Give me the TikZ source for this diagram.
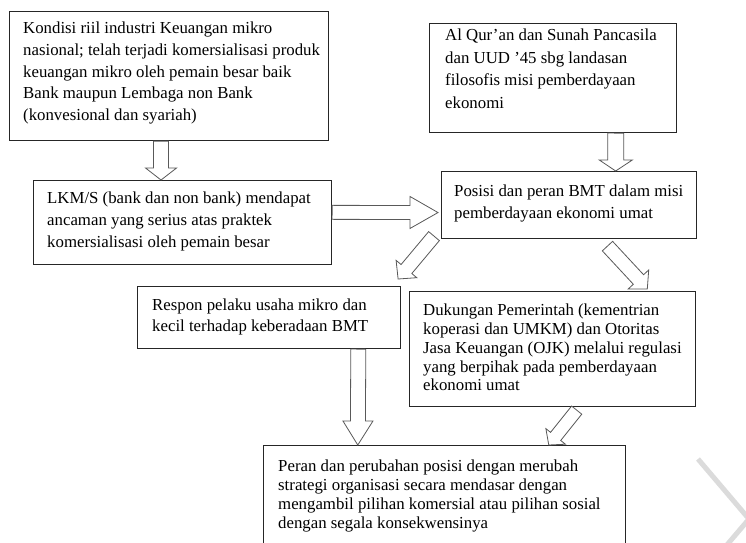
\documentclass[tikz,border=0pt]{standalone}
\usepackage{fontspec}
\setmainfont{Liberation Serif}
\usetikzlibrary{calc}
\tikzset{
  box/.style={draw=black!85, line width=1.1pt, anchor=north west, inner sep=0pt, fill=white},
  txt/.style={anchor=north west, inner sep=0pt, align=left, font=\fontsize{16.8}{#1}\selectfont, text=black},
  barrow/.style={draw=black!65, line width=0.8pt, fill=white, line join=miter},
  wm/.style={draw=black!14, line width=5pt}
}
% #1 start, #2 end, #3 shaft half width, #4 head half width, #5 head length
\newcommand\blockarrow[5]{%
  \coordinate (ba-h) at ($(#2)!#5pt!(#1)$);
  \draw[barrow] ($(#1)!#3pt!90:(#2)$) -- ($(ba-h)!#3pt!90:(#2)$) -- ($(ba-h)!#4pt!90:(#2)$)
    -- (#2) -- ($(ba-h)!#4pt!-90:(#2)$) -- ($(ba-h)!#3pt!-90:(#2)$) -- ($(#1)!#3pt!-90:(#2)$) -- cycle;}
\begin{document}
\begin{tikzpicture}[x=1pt,y=-1pt]
\useasboundingbox (0,0) rectangle (746,542);
\fill[white] (0,0) rectangle (746,542);
% watermark
\draw[wm] (698,459) -- (749,519) -- (726,546);
% boxes
\node[box, minimum width=319pt, minimum height=129pt] (b1) at (9,11) {};
\node[box, minimum width=298pt, minimum height=84pt] (b2) at (33,180) {};
\node[box, minimum width=247pt, minimum height=109pt] (b3) at (429,23) {};
\node[box, minimum width=255pt, minimum height=67pt] (b4) at (441,171) {};
\node[box, minimum width=263pt, minimum height=62pt] (b5) at (137,286) {};
\node[box, minimum width=286pt, minimum height=115pt] (b6) at (409,291) {};
\node[box, minimum width=362pt, minimum height=110pt] (b7) at (263,445) {};
% arrows
\coordinate (a1s) at ($(b1.south west)!0.475!(b1.south east)$);
\coordinate (a1e) at ($(b2.north west)!0.428!(b2.north east)$);
\blockarrow{a1s}{a1e}{7.5}{15.5}{12}
\coordinate (a2s) at ($(b2.north east)!0.38!(b2.south east)$);
\coordinate (a2e) at ($(b4.north west)!0.61!(b4.south west)+(-3,0)$);
\blockarrow{a2s}{a2e}{7}{16}{28}
\coordinate (a3s) at ($(b3.south west)!0.753!(b3.south east)$);
\coordinate (a3e) at ($(b4.north west)!0.682!(b4.north east)$);
\blockarrow{a3s}{a3e}{8}{16.5}{11}
\coordinate (a4s) at ($(b4.south west)+(-7,-3)$);
\coordinate (a4e) at ($(b5.north east)+(-3,-7)$);
\blockarrow{a4s}{a4e}{7}{13.5}{13}
\coordinate (a5s) at ($(b4.south west)!0.65!(b4.south east)+(0,7)$);
\coordinate (a5e) at ($(b6.north west)!0.83!(b6.north east)+(0,-2)$);
\blockarrow{a5s}{a5e}{7}{14}{13}
\coordinate (a6s) at ($(b5.south west)!0.838!(b5.south east)$);
\coordinate (a6e) at ($(b7.north west)!0.261!(b7.north east)$);
\blockarrow{a6s}{a6e}{7.5}{15}{24}
\coordinate (a7s) at ($(b6.south west)!0.584!(b6.south east)+(0,3)$);
\coordinate (a7e) at ($(b7.north west)!0.787!(b7.north east)$);
\blockarrow{a7s}{a7e}{6.5}{12.5}{11}
% texts
\node[txt=21.7] (t1) at ($(b1.north west)+(14,11)$) {Kondisi riil industri Keuangan mikro\\nasional; telah terjadi komersialisasi produk\\keuangan mikro oleh pemain besar baik\\Bank maupun Lembaga non Bank\\(konvesional dan syariah)};
\node[txt=21.7] (t2) at ($(b2.north west)+(14,12)$) {LKM/S (bank dan non bank) mendapat\\ancaman yang serius atas praktek\\komersialisasi oleh pemain besar};
\node[txt=22.4] (t3) at ($(b3.north west)+(16,6)$) {Al Qur'an dan Sunah Pancasila\\dan UUD '45 sbg landasan\\filosofis misi pemberdayaan\\ekonomi};
\node[txt=21.7] (t4) at ($(b4.north west)+(13,14)$) {Posisi dan peran BMT dalam misi\\pemberdayaan ekonomi umat};
\node[txt=20.3] (t5) at ($(b5.north west)+(15,13)$) {Respon pelaku usaha mikro dan\\kecil terhadap keberadaan BMT};
\node[txt=18.75] (t6) at ($(b6.north west)+(14,13)$) {Dukungan Pemerintah (kementrian\\koperasi dan UMKM) dan Otoritas\\Jasa Keuangan (OJK) melalui regulasi\\yang berpihak pada pemberdayaan\\ekonomi umat};
\node[txt=18.9] (t7) at ($(b7.north west)+(15,15)$) {Peran dan perubahan posisi dengan merubah\\strategi organisasi secara mendasar dengan\\mengambil pilihan komersial atau pilihan sosial\\dengan segala konsekwensinya};
\end{tikzpicture}
\end{document}
